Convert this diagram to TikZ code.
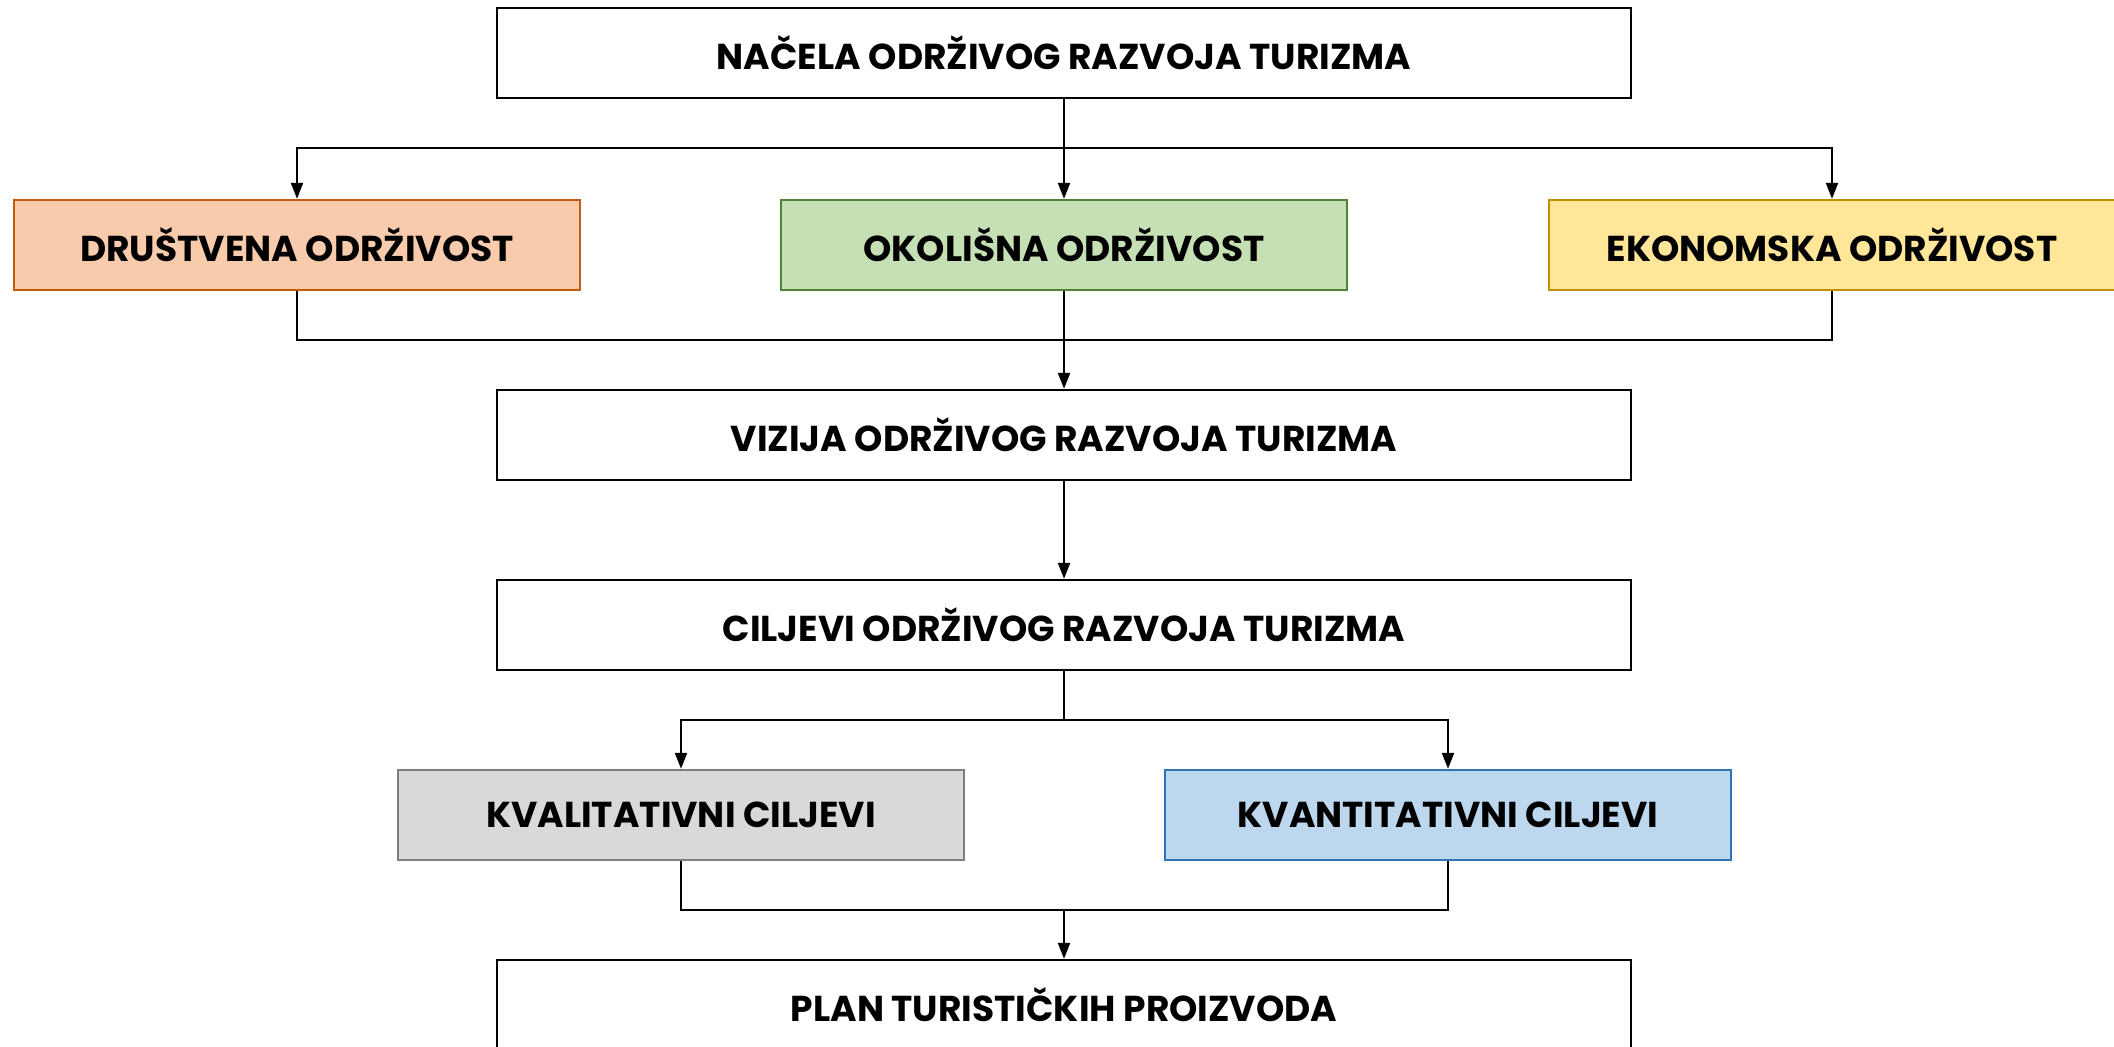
\documentclass[tikz,border=0pt]{standalone}
\usepackage{fontspec}
\setmainfont{Poppins}
\usetikzlibrary{arrows.meta}
\definecolor{orFill}{HTML}{F8CBAD}\definecolor{orLine}{HTML}{C55A11}
\definecolor{grFill}{HTML}{C5E0B4}\definecolor{grLine}{HTML}{538135}
\definecolor{yeFill}{HTML}{FFE699}\definecolor{yeLine}{HTML}{BF9000}
\definecolor{gyFill}{HTML}{D9D9D9}\definecolor{gyLine}{HTML}{7F7F7F}
\definecolor{blFill}{HTML}{BDD7EE}\definecolor{blLine}{HTML}{2E75B6}
\tikzset{
  basebox/.style={draw, line width=1.2pt, inner sep=0pt, minimum height=45pt,
    font=\fontsize{18}{21}\selectfont\bfseries, text=black},
  widebox/.style={basebox, fill=white, draw=black, minimum width=567pt},
  colbox/.style={basebox, minimum width=283pt},
  conn/.style={line width=1.1pt, draw=black},
  arr/.style={conn, -{Triangle[length=8pt,width=6pt]}}
}
\begin{document}
\begin{tikzpicture}[x=0.5pt,y=-0.5pt]
\useasboundingbox (0,0) rectangle (2114,1047);
\node[widebox] (nacela) at (1064,53) {NAČELA ODRŽIVOG RAZVOJA TURIZMA};
\node[colbox, fill=orFill, draw=orLine] (drus) at (297,245) {DRUŠTVENA ODRŽIVOST};
\node[colbox, fill=grFill, draw=grLine] (okol) at (1064,245) {OKOLIŠNA ODRŽIVOST};
\node[colbox, fill=yeFill, draw=yeLine] (ekon) at (1832,245) {EKONOMSKA ODRŽIVOST};
\node[widebox] (vizija) at (1064,435) {VIZIJA ODRŽIVOG RAZVOJA TURIZMA};
\node[widebox] (ciljevi) at (1064,625) {CILJEVI ODRŽIVOG RAZVOJA TURIZMA};
\node[colbox, fill=gyFill, draw=gyLine] (kval) at (681,815) {KVALITATIVNI CILJEVI};
\node[colbox, fill=blFill, draw=blLine] (kvant) at (1448,815) {KVANTITATIVNI CILJEVI};
\node[widebox] (plan) at (1064,1005) {PLAN TURISTIČKIH PROIZVODA};
\coordinate (s1) at (1064,148);
\coordinate (m1) at (1064,340);
\coordinate (s2) at (1064,720);
\coordinate (m2) at (1064,910);
\draw[conn] (nacela.south) -- (s1);
\draw[arr] (s1) -| (drus.north);
\draw[arr] (s1) -| (ekon.north);
\draw[arr] (s1) -- (okol.north);
\draw[conn] (drus.south) |- (m1);
\draw[conn] (ekon.south) |- (m1);
\draw[conn] (okol.south) -- (m1);
\draw[arr] (m1) -- (vizija.north);
\draw[arr] (vizija.south) -- (ciljevi.north);
\draw[conn] (ciljevi.south) -- (s2);
\draw[arr] (s2) -| (kval.north);
\draw[arr] (s2) -| (kvant.north);
\draw[conn] (kval.south) |- (m2);
\draw[conn] (kvant.south) |- (m2);
\draw[arr] (m2) -- (plan.north);
\end{tikzpicture}
\end{document}
